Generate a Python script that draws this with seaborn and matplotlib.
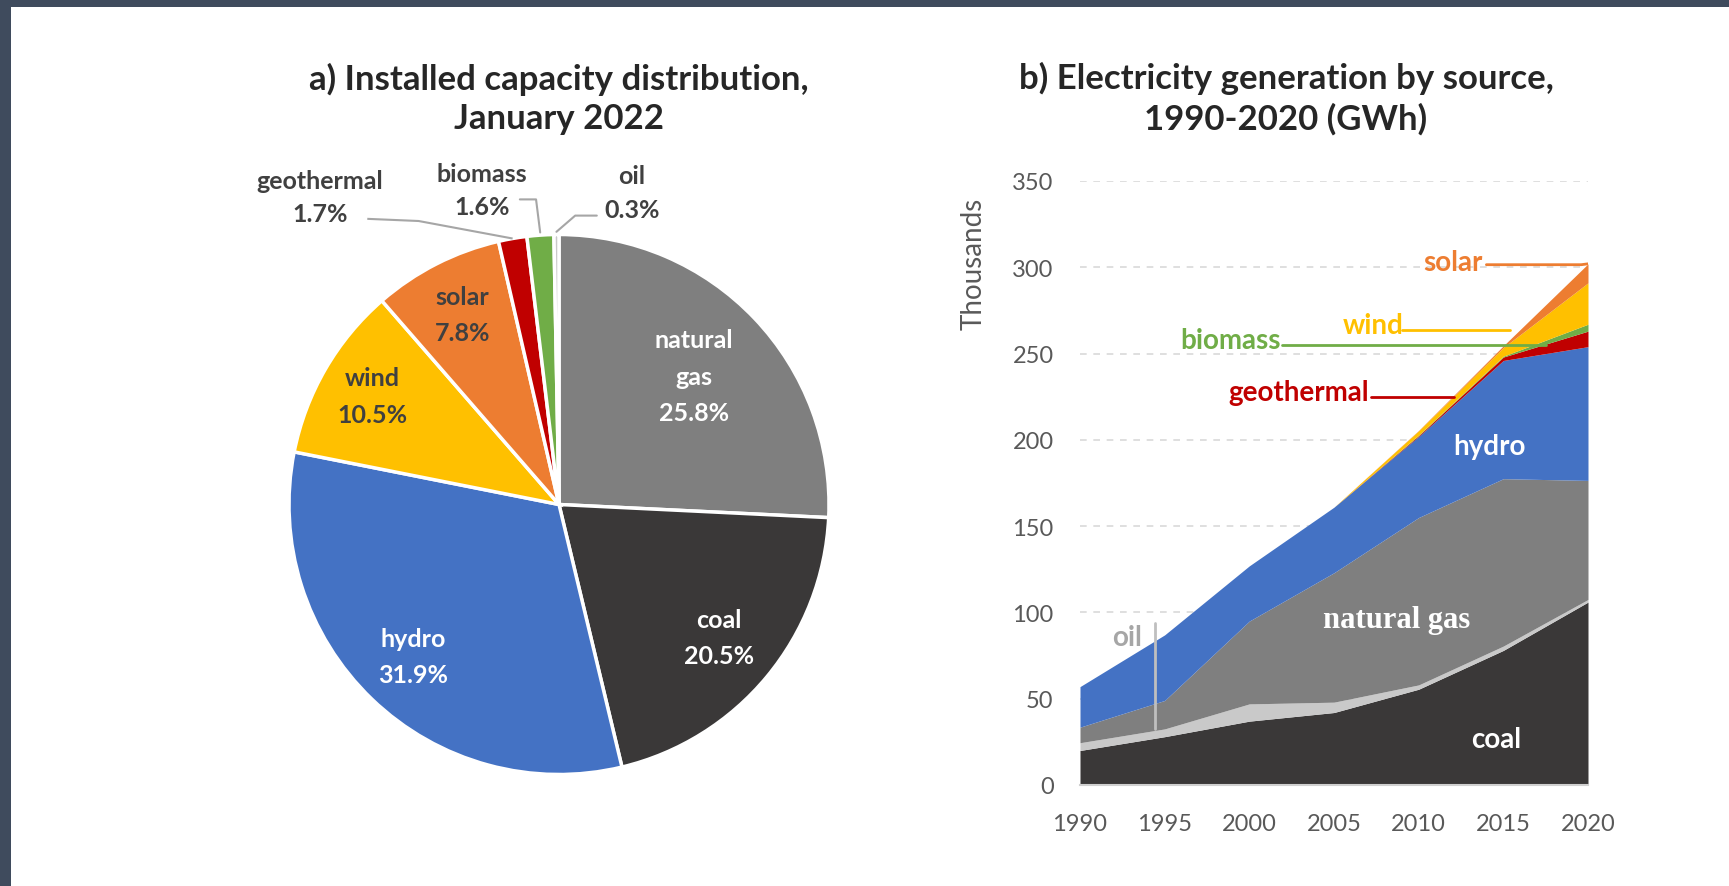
import numpy as np
import pandas as pd
import matplotlib
matplotlib.use("Agg")
import matplotlib.pyplot as plt
from matplotlib.patches import Rectangle
import seaborn as sns

# ---- data: installed capacity share, Jan 2022 (%)
cap_sources = ["natural gas", "coal", "hydro", "wind", "solar", "geothermal", "biomass", "oil"]
cap_share = [25.8, 20.5, 31.9, 10.5, 7.8, 1.7, 1.6, 0.3]

# ---- data: generation by source (thousand GWh)
years = [1990, 1995, 2000, 2005, 2010, 2015, 2020]
coal = [20, 28, 37, 42, 55.5, 78, 106]
oil = [4.5, 4.5, 10, 6, 2.5, 2.5, 1.5]
gas = [9, 16.5, 48, 75, 97, 97, 69]
hydro = [23.5, 38, 32, 38, 47, 68.5, 77.5]
geothermal = [0, 0, 0, 0, 0.5, 2, 9]
biomass = [0, 0, 0, 0, 0.3, 0.5, 4]
wind = [0, 0, 0, 0, 2.5, 5, 24]
solar = [0, 0, 0, 0, 0.2, 1, 11]

gen = pd.DataFrame({"coal": coal, "oil": oil, "natural gas": gas, "hydro": hydro,
                    "geothermal": geothermal, "biomass": biomass, "wind": wind,
                    "solar": solar}, index=years)

colors = {"natural gas": "#7f7f7f", "coal": "#3a3838", "hydro": "#4472c4",
          "wind": "#ffc000", "solar": "#ed7d31", "geothermal": "#c00000",
          "biomass": "#70ad47", "oil": "#c9c9c9"}

sns.set_theme(style="white")
plt.rcParams["font.family"] = ["Lato", "DejaVu Sans"]

W, H = 1729, 887
fig = plt.figure(figsize=(W / 100, H / 100), dpi=100)
fig.patch.set_facecolor("white")

# frame edges of the screenshot
fig.add_artist(Rectangle((0, 0), 11 / W, 1, transform=fig.transFigure,
                         facecolor="#3f4b5d", edgecolor="none", zorder=10))
fig.add_artist(Rectangle((0, 1 - 8 / H), 1, 8 / H, transform=fig.transFigure,
                         facecolor="#3f4b5d", edgecolor="none", zorder=10))

dark = "#404040"

# ---------------- a) pie ----------------
cx, cy, R = 559, 505.5, 270
half = 350
ax_p = fig.add_axes([(cx - half) / W, (H - cy - half) / H, 2 * half / W, 2 * half / H])
ax_p.pie(cap_share, colors=[colors[s] for s in cap_sources], startangle=90,
         counterclock=False, radius=1,
         wedgeprops=dict(edgecolor="white", linewidth=2.5))
lim = half / R
ax_p.set_xlim(-lim, lim)
ax_p.set_ylim(-lim, lim)
ax_p.set_aspect("equal")
ax_p.axis("off")

total = sum(cap_share)
cum = np.cumsum([0] + cap_share[:-1])
mids = [np.deg2rad(90 - 360 * (c + v / 2) / total) for c, v in zip(cum, cap_share)]

inside = {"natural gas": ("natural\ngas", 0.69, "white"),
          "coal": ("coal", 0.77, "white"),
          "hydro": ("hydro", 0.78, "white"),
          "wind": ("wind", 0.80, dark),
          "solar": ("solar", 0.79, dark)}
for i, src in enumerate(cap_sources):
    if src in inside:
        name, r, col = inside[src]
        ax_p.text(r * np.cos(mids[i]), r * np.sin(mids[i]), f"{name}\n{cap_share[i]}%",
                  ha="center", va="center", fontsize=18, fontweight="bold",
                  color=col, linespacing=1.7)

lead = "#a6a6a6"
out_kw = dict(ha="center", va="center", fontsize=18, fontweight="bold", color=dark,
              linespacing=1.55)
# outside labels
ax_p.text(-0.885, 1.139, f"geothermal\n{cap_share[5]}%", **out_kw)
ax_p.plot([-0.71, -0.52, np.cos(mids[5])], [1.058, 1.05, np.sin(mids[5])],
          color=lead, lw=1.5, solid_capstyle="butt")
ax_p.text(-0.285, 1.165, f"biomass\n{cap_share[6]}%", **out_kw)
ax_p.plot([-0.145, -0.085, np.cos(mids[6]) * 1.01], [1.13, 1.13, np.sin(mids[6]) * 1.01],
          color=lead, lw=1.5)
ax_p.text(0.27, 1.156, f"oil\n{cap_share[7]}%", **out_kw)
ax_p.plot([np.cos(mids[7]) * 1.01, 0.06, 0.14], [np.sin(mids[7]) * 1.01, 1.07, 1.07],
          color=lead, lw=1.5)

fig.text(cx / W, 1 - 99 / H, "a) Installed capacity distribution,\nJanuary 2022",
         ha="center", va="center", fontsize=25, fontweight="bold", color="#262626",
         linespacing=1.3)

# ---------------- b) stacked area ----------------
x0, x1, y0, y1 = 1080, 1588, 786, 182
ax_a = fig.add_axes([x0 / W, (H - y0) / H, (x1 - x0) / W, (y0 - y1) / H])
ax_a.stackplot(gen.index, *[gen[c] for c in gen.columns],
               colors=[colors[c] for c in gen.columns], linewidth=0)
ax_a.set_xlim(1990, 2020)
ax_a.set_ylim(0, 350)
ax_a.set_xticks(years)
ax_a.set_yticks(range(0, 351, 50))
ax_a.yaxis.grid(True, linestyle=(0, (4, 4)), color="#d9d9d9", lw=1.2)
ax_a.xaxis.grid(False)
ax_a.set_axisbelow(True)
sns.despine(ax=ax_a, left=True)
ax_a.spines["bottom"].set_color("#d0d0d0")
ax_a.spines["bottom"].set_linewidth(1.5)
ax_a.spines["bottom"].set_zorder(5)
ax_a.tick_params(axis="x", length=5, width=1.2, color="#c8c8c8", pad=15,
                 labelsize=17, labelcolor="#595959")
ax_a.tick_params(axis="y", length=0, pad=19, labelsize=17, labelcolor="#595959")
ax_a.set_ylabel("Thousands", fontsize=20, color="#595959")
ax_a.yaxis.set_label_coords(-0.183, 0.864)

bold = dict(fontsize=20, fontweight="bold")
ax_a.text(2012.0, 303, "solar", color=colors["solar"], ha="center", va="center", **bold)
ax_a.plot([2014.0, 2019.6, 2020], [301.5, 301.5, 302], color=colors["solar"], lw=2)
ax_a.text(2007.3, 266.7, "wind", color=colors["wind"], ha="center", va="center", **bold)
ax_a.plot([2009.0, 2015.4], [263.8, 263.8], color=colors["wind"], lw=2)
ax_a.text(1998.9, 258, "biomass", color=colors["biomass"], ha="center", va="center", **bold)
ax_a.plot([2001.9, 2017.5], [255.2, 255.2], color=colors["biomass"], lw=2)
ax_a.text(2002.9, 227.7, "geothermal", color=colors["geothermal"], ha="center", va="center", **bold)
ax_a.plot([2007.2, 2012.1], [225, 225], color=colors["geothermal"], lw=2)
ax_a.text(2014.2, 196.6, "hydro", color="white", ha="center", va="center", **bold)
ax_a.text(2014.6, 26.8, "coal", color="white", ha="center", va="center", **bold)
ax_a.text(2008.7, 95.9, "natural gas", color="white", ha="center", va="center",
          fontsize=22, fontweight="bold", family=["Liberation Serif", "DejaVu Serif"])
ax_a.text(1992.8, 85.8, "oil", color="#a6a6a6", ha="center", va="center", **bold)
ax_a.plot([1994.4, 1994.4], [93.9, 32.7], color="#bfbfbf", lw=2)

fig.text(1286 / W, 1 - 99 / H, "b) Electricity generation by source,\n1990-2020 (GWh)",
         ha="center", va="center", fontsize=25, fontweight="bold", color="#262626",
         linespacing=1.3)

fig.savefig("out.png", dpi=100)
